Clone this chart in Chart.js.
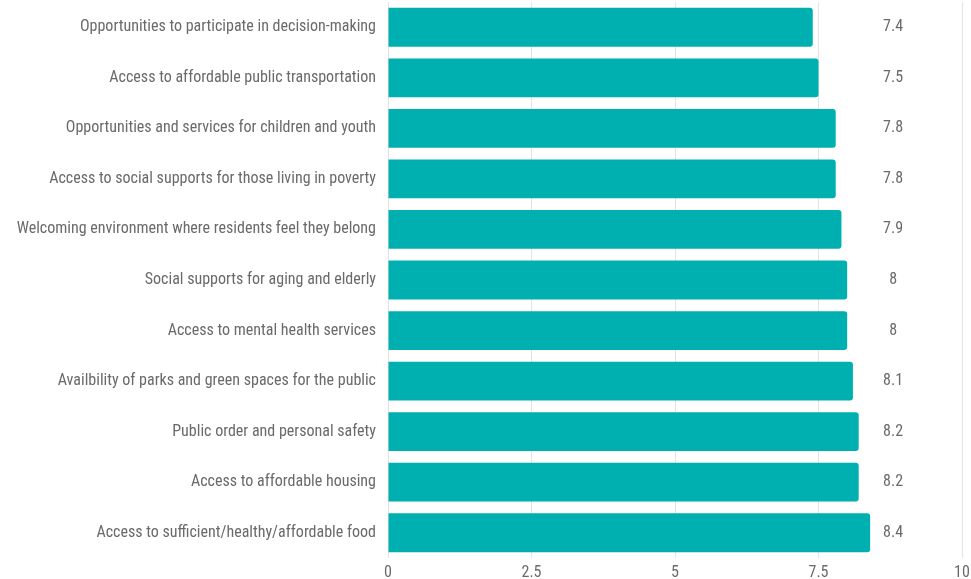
<!DOCTYPE html>
<html><head><meta charset="utf-8">
<script src="https://cdn.jsdelivr.net/npm/chart.js@4"></script>
<style>html,body{margin:0;padding:0;background:#fff;}#wrap{width:971px;height:579px;}</style>
</head><body><div id="wrap"><canvas id="c"></canvas></div>
<script>
const categories = [
  "Opportunities to participate in decision-making",
  "Access to affordable public transportation",
  "Opportunities and services for children and youth",
  "Access to social supports for those living in poverty",
  "Welcoming environment where residents feel they belong",
  "Social supports for aging and elderly",
  "Access to mental health services",
  "Availbility of parks and green spaces for the public",
  "Public order and personal safety",
  "Access to affordable housing",
  "Access to sufficient/healthy/affordable food"
];
const scores = [7.4, 7.5, 7.8, 7.8, 7.9, 8, 8, 8.1, 8.2, 8.2, 8.4];
const xTicks = [0, 2.5, 5, 7.5, 10];
const labelColumnValue = 8.8;

const FONT = "'Roboto Condensed', 'Liberation Sans Narrow', 'Arial Narrow', Roboto, sans-serif";

const valueLabels = {
  id: 'valueLabels',
  afterDatasetsDraw(chart) {
    const ctx = chart.ctx;
    const xs = chart.scales.x;
    const meta = chart.getDatasetMeta(0);
    ctx.save();
    ctx.font = "16px " + FONT;
    ctx.fillStyle = '#6a6a6a';
    ctx.textAlign = 'center';
    ctx.textBaseline = 'middle';
    meta.data.forEach((bar, i) => {
      ctx.fillText(String(scores[i]), xs.getPixelForValue(labelColumnValue), bar.y);
    });
    ctx.restore();
  }
};

new Chart(document.getElementById('c'), {
  type: 'bar',
  data: {
    labels: categories,
    datasets: [{
      data: scores,
      backgroundColor: '#00b0b0',
      borderRadius: 3,
      borderSkipped: 'start',
      categoryPercentage: 0.8,
      barPercentage: 0.96
    }]
  },
  options: {
    indexAxis: 'y',
    responsive: true,
    maintainAspectRatio: false,
    animation: false,
    layout: { padding: { top: 2, right: 9, left: 0, bottom: 0 } },
    plugins: { legend: { display: false }, tooltip: { enabled: false } },
    scales: {
      x: {
        min: 0, max: 10,
        afterBuildTicks(scale) { scale.ticks = xTicks.map(v => ({ value: v })); },
        afterFit(scale) { scale.height = 21; scale.paddingLeft = 0; scale.paddingRight = 0; },
        border: { display: false },
        grid: { color: '#e3e3e3', drawTicks: false, lineWidth: 1 },
        ticks: { color: '#6a6a6a', font: { family: FONT, size: 16 }, padding: 5,
                 callback: v => String(v) }
      },
      y: {
        afterFit(scale) { scale.width = 388; scale.paddingTop = 0; scale.paddingBottom = 0; },
        border: { display: false },
        grid: { display: false },
        ticks: { color: '#6a6a6a', font: { family: FONT, size: 16 }, padding: 4 }
      }
    }
  },
  plugins: [valueLabels]
});
</script></body></html>
